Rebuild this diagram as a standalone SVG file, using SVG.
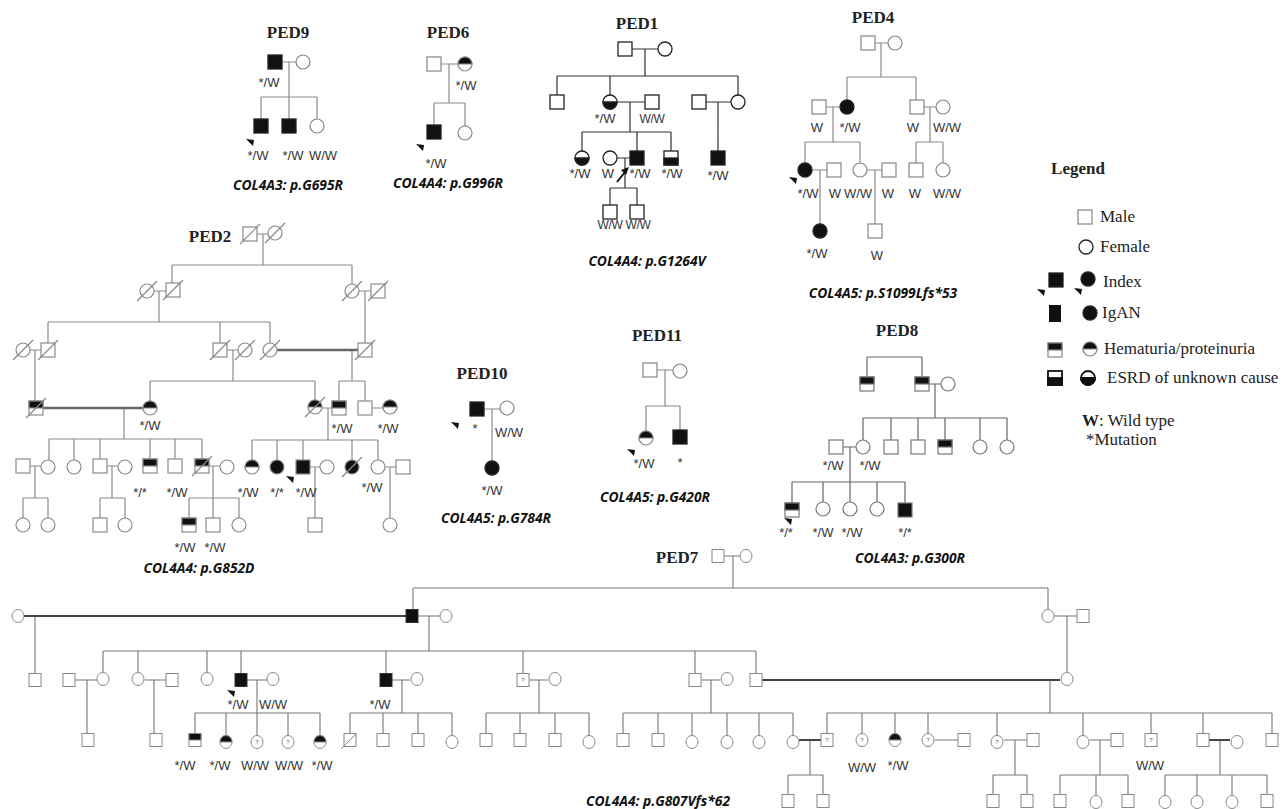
<svg xmlns="http://www.w3.org/2000/svg" xmlns:xlink="http://www.w3.org/1999/xlink" width="1287" height="809" viewBox="0 0 1287 809">
<style>
.ln{fill:none;stroke:#8c8c8c;stroke-width:1.2}
.dk{stroke:#333}
.th{fill:none;stroke:#666;stroke-width:2.6}
.lb{font-family:"Liberation Sans",Arial,sans-serif;font-size:13px;fill:#333;text-anchor:middle;stroke:none}
.tl{font-size:12px;letter-spacing:-0.4px}
.tt{font-family:"Liberation Serif","Times New Roman",serif;font-weight:bold;font-size:17px;fill:#222;text-anchor:middle;stroke:none}
.gn{font-family:"Open Sans","Liberation Sans",sans-serif;font-style:italic;font-weight:bold;font-size:13.8px;fill:#111;text-anchor:middle;stroke:none}
.lg{font-family:"Liberation Serif","Times New Roman",serif;font-size:17px;fill:#222;stroke:none}
.nd{stroke:#858585;stroke-width:1.2}
.nk{stroke:#222;stroke-width:1.3}
.q{font-family:"Liberation Sans",Arial,sans-serif;font-size:6px;fill:#666;stroke:none;text-anchor:middle}
</style>
<defs>
<g id="sq"><rect x="-7" y="-7" width="14" height="14" fill="#fff"/></g>
<g id="sqB"><rect x="-7" y="-7" width="14" height="14" fill="#111"/></g>
<g id="sqT"><rect x="-7" y="-7" width="14" height="14" fill="#fff"/><rect x="-7" y="-7" width="14" height="7" fill="#111"/></g>
<g id="sqE"><rect x="-7" y="-7" width="14" height="14" fill="#fff"/><rect x="-7" y="0" width="14" height="7" fill="#111"/></g>
<g id="ci"><circle r="7" fill="#fff"/></g>
<g id="ciB"><circle r="7" fill="#111"/></g>
<g id="ciT"><circle r="7" fill="#fff"/><path d="M-7,0A7,7 0 0 1 7,0Z" fill="#111"/></g>
<g id="ciE"><circle r="7" fill="#fff"/><path d="M-7,0A7,7 0 0 0 7,0Z" fill="#111"/></g>
<line id="dx" x1="-10" y1="10" x2="10" y2="-10"/>
<polygon id="arr" points="0,0 8,1 7,7" fill="#111" stroke="none"/>
<g id="s"><rect x="-6" y="-6.5" width="12" height="13" fill="#fff"/></g>
<g id="sB"><rect x="-6" y="-6.5" width="12" height="13" fill="#111"/></g>
<g id="sT"><rect x="-6" y="-6.5" width="12" height="13" fill="#fff"/><rect x="-6" y="-6.5" width="12" height="6.5" fill="#111"/></g>
<g id="sQ"><rect x="-6" y="-6.5" width="12" height="13" fill="#fff"/><text class="q" y="2">?</text></g>
<g id="sX"><rect x="-6" y="-6.5" width="12" height="13" fill="#fff"/><line x1="-9" y1="9" x2="7" y2="-7"/></g>
<g id="c"><ellipse rx="6" ry="6.5" fill="#fff"/></g>
<g id="cT"><ellipse rx="6" ry="6.5" fill="#fff"/><path d="M-6,0A6,6.5 0 0 1 6,0Z" fill="#111"/></g>
<g id="cQ"><ellipse rx="6" ry="6.5" fill="#fff"/><text class="q" y="2">?</text></g>
</defs>
<rect width="1287" height="809" fill="#fff"/>

<g id="connectors">
<path id="c-ped9" class="ln" d="M282,62H296M289,62V97M261,97H317M261,97V119M289,97V119M317,97V119"/>
<path id="c-ped6" class="ln" d="M441,64H458M449,64V103M434,103H465M434,103V125M465,103V126"/>
<path id="c-ped1" class="ln dk" d="M632,49H658M645,49V76M557,76H738M557,76V95M610,76V95M738,76V95M617,102H645M630,102V132M582,132H671M582,132V151M637,132V151M671,132V151M706,102H731M718,102V151M617,158H630M625,158V188M610,188H637M610,188V205M637,188V205"/>
<g id="c-ped1-arrow"><path d="M617,182L625,172" stroke="#111" stroke-width="2" fill="none"/><polygon points="629,167 621,170 626,175" fill="#111"/></g>
<path id="c-ped4" class="ln" d="M875,43H888M881,43V77M847,77H916M847,77V100M916,77V100M826,107H840M833,107V142M805,142H860M805,142V163M860,142V163M924,107H936M930,107V142M916,142H943M916,142V163M943,142V163M812,170H827M820,170V224M867,170H882M875,170V224"/>
<path id="c-ped2" class="ln" d="M257,234H268M263,234V265M172,265H352M172,265V283M352,265V284M154,291H166M159,291V322M48,322H270M48,322V343M220,322V343M270,322V343M359,291H371M365,291V343M30,350H41M35,350V401M227,350H238M233,350V381M150,381H315M150,381V401M315,381V400M352,350V381M339,381H365M339,381V401M365,381V401M322,408H332M372,408H383M124,408V439M49,439H202M49,439V460M74,439V460M100,439V459M150,439V459M175,439V459M202,439V459M29,466H41M35,466V498M23,498H48M23,498V518M48,498V518M106,466H118M112,466V498M100,498H125M100,498V518M125,498V518M208,466H220M213,466V518M189,498H239M189,498V518M239,498V518M328,408V440M252,440H378M252,440V460M277,440V460M303,440V460M352,440V460M378,440V460M310,467H320M315,467V518M385,467H396M390,467V518"/>
<path id="c-ped2-dbl" class="th" d="M277,350H358M43,408H143"/>
<path id="c-ped10" class="ln" d="M484,409H500M492,409V461"/>
<path id="c-ped11" class="ln" d="M657,370H673M665,370V406M646,406H680M646,406V431M680,406V430"/>
<path id="c-ped8" class="ln" style="stroke:#666" d="M867,357H922M867,357V377M922,357V377M929,384H941M935,384V418M863,418H1007M863,418V440M891,418V440M918,418V440M945,418V440M980,418V440M1007,418V440M843,447H856M850,447V482M792,482H905M792,482V503M823,482V502M850,482V502M877,482V502M905,482V503"/>
<path id="c-ped7" class="ln" style="stroke:#777;stroke-width:1.1" d="M724,556H740M733,556V588M413,588H1048M413,588V609.5M1048,588V609.5M418,616H440M35,616V673.5M1054,616H1077M1067,616V672.5M429,616V651M103,651H756M103,651V672.5M138,651V672.5M207,651V672.5M241,651V673.5M386,651V673.5M523,651V673.5M695,651V673.5M756,651V673.5M75,680H97M87,680V733.5M145,680H166M154,680V733.5M247,680H267M257,680V735.5M195,713H320M195,713V733.5M226,713V735.5M288,713V735.5M320,713V735.5M392,680H410M402,680V713M350,713H452M350,713V733.5M383,713V733.5M418,713V733.5M452,713V735.5M529,680H548M539,680V713M486,713H589M486,713V733.5M520,713V733.5M555,713V733.5M589,713V735.5M701,680H720M711,680V713M623,713H793M623,713V733.5M658,713V733.5M692,713V735.5M727,713V735.5M759,713V735.5M793,713V735.5M810,740V775M788,775H823M788,775V794.5M823,775V794.5M1050,680V713M827,713H1272M827,713V733.5M862,713V733.5M895,713V733.5M928,713V733.5M997,713V735.5M1083,713V735.5M1151,713V733.5M1203,713V733.5M1272,713V733.5M935,740H958M1004,740H1027M1015,740V775M993,775H1027M993,775V794.5M1027,775V794.5M1090,740H1111M1100,740V775M1060,775H1128M1060,775V794.5M1096,775V795.5M1128,775V794.5M1220,740V775M1165,775H1267M1165,775V795.5M1197,775V795.5M1232,775V795.5M1267,775V794.5"/>
<path id="c-ped7-thick" class="th" style="stroke:#444;stroke-width:2" d="M24,616H406M762,680H1060M799,740H821M1209,740H1230"/>
</g>

<g id="ped9">
<text class="tt" x="288" y="38">PED9</text>
<use id="p9-f" href="#sqB" x="275" y="62" class="nk"/>
<use id="p9-m" href="#ci" x="303" y="62" class="nd"/>
<use id="p9-c1" href="#sqB" x="261" y="126" class="nk"/>
<use id="p9-c2" href="#sqB" x="289" y="126" class="nk"/>
<use id="p9-c3" href="#ci" x="317" y="126" class="nd"/>
<use href="#arr" x="246" y="139"/>
<text class="lb" x="269" y="87">*/W</text>
<text class="lb" x="258" y="160">*/W</text>
<text class="lb" x="293" y="160">*/W</text>
<text class="lb" x="323" y="160">W/W</text>
<text class="gn" x="288" y="190">COL4A3: p.G695R</text>
</g>

<g id="ped6">
<text class="tt" x="448" y="38">PED6</text>
<use id="p6-f" href="#sq" x="434" y="64" class="nd"/>
<use id="p6-m" href="#ciT" x="465" y="64" class="nd"/>
<use id="p6-c1" href="#sqB" x="434" y="132" class="nk"/>
<use id="p6-c2" href="#ci" x="465" y="133" class="nd"/>
<use href="#arr" x="416" y="144"/>
<text class="lb" x="466" y="90">*/W</text>
<text class="lb" x="436" y="168">*/W</text>
<text class="gn" x="448" y="188">COL4A4: p.G996R</text>
</g>

<g id="ped1">
<text class="tt" x="637" y="29">PED1</text>
<use id="p1-f" href="#sq" x="625" y="49" class="nk"/>
<use id="p1-m" href="#ci" x="665" y="49" class="nk"/>
<use id="p1-a" href="#sq" x="557" y="102" class="nk"/>
<use id="p1-b" href="#ciE" x="610" y="102" class="nk"/>
<use id="p1-bh" href="#sq" x="652" y="102" class="nk"/>
<use id="p1-cs" href="#sq" x="699" y="102" class="nk"/>
<use id="p1-c" href="#ci" x="738" y="102" class="nk"/>
<use id="p1-d" href="#ciE" x="582" y="158" class="nk"/>
<use id="p1-ew" href="#ci" x="610" y="158" class="nk"/>
<use id="p1-e" href="#sqB" x="637" y="158" class="nk"/>
<use id="p1-g" href="#sqE" x="671" y="158" class="nk"/>
<use id="p1-h" href="#sqB" x="718" y="158" class="nk"/>
<use id="p1-i" href="#sq" x="610" y="212" class="nk"/>
<use id="p1-j" href="#sq" x="637" y="212" class="nk"/>
<text class="lb" x="605" y="123">*/W</text>
<text class="lb tl" x="652" y="123">W/W</text>
<text class="lb" x="580" y="178">*/W</text>
<text class="lb" x="608" y="178">W</text>
<text class="lb" x="640" y="178">*/W</text>
<text class="lb" x="672" y="178">*/W</text>
<text class="lb" x="718" y="180">*/W</text>
<text class="lb tl" x="610" y="229">W/W</text>
<text class="lb tl" x="638" y="229">W/W</text>
<text class="gn" x="647" y="266">COL4A4: p.G1264V</text>
</g>

<g id="ped4">
<text class="tt" x="873" y="23">PED4</text>
<use id="p4-f" href="#sq" x="868" y="43" class="nd"/>
<use id="p4-m" href="#ci" x="895" y="43" class="nd"/>
<use id="p4-a" href="#sq" x="819" y="107" class="nd"/>
<use id="p4-b" href="#ciB" x="847" y="107" class="nk"/>
<use id="p4-c" href="#sq" x="917" y="107" class="nd"/>
<use id="p4-d" href="#ci" x="943" y="107" class="nd"/>
<use id="p4-e" href="#ciB" x="805" y="170" class="nk"/>
<use id="p4-f2" href="#sq" x="834" y="170" class="nd"/>
<use id="p4-g" href="#ci" x="860" y="170" class="nd"/>
<use id="p4-h" href="#sq" x="889" y="170" class="nd"/>
<use id="p4-i" href="#sq" x="916" y="170" class="nd"/>
<use id="p4-j" href="#ci" x="943" y="170" class="nd"/>
<use id="p4-k" href="#ciB" x="820" y="231" class="nk"/>
<use id="p4-l" href="#sq" x="875" y="231" class="nd"/>
<use href="#arr" x="789" y="177"/>
<text class="lb" x="817" y="132">W</text>
<text class="lb" x="850" y="132">*/W</text>
<text class="lb" x="913" y="132">W</text>
<text class="lb" x="947" y="132">W/W</text>
<text class="lb" x="808" y="198">*/W</text>
<text class="lb" x="835" y="198">W</text>
<text class="lb" x="858" y="198">W/W</text>
<text class="lb" x="888" y="198">W</text>
<text class="lb" x="915" y="198">W</text>
<text class="lb" x="947" y="198">W/W</text>
<text class="lb" x="817" y="258">*/W</text>
<text class="lb" x="877" y="260">W</text>
<text class="gn" x="883" y="298">COL4A5: p.S1099Lfs*53</text>
</g>

<g id="legend">
<text class="lg" x="1078" y="174" text-anchor="middle" font-weight="bold" font-size="20">Legend</text>
<use id="lg-male" href="#sq" x="1085" y="217" class="nd"/>
<text class="lg" x="1100" y="222">Male</text>
<use id="lg-female" href="#ci" x="1086" y="247" class="nk"/>
<text class="lg" x="1100" y="252">Female</text>
<use id="lg-idx-s" href="#sqB" x="1056" y="280" class="nk"/>
<use href="#arr" x="1037" y="289"/>
<use id="lg-idx-c" href="#ciB" x="1088" y="279" class="nk"/>
<use href="#arr" x="1074" y="288"/>
<text class="lg" x="1103" y="287">Index</text>
<rect id="lg-igan-s" x="1049" y="305" width="12" height="17" fill="#111"/>
<use id="lg-igan-c" href="#ciB" x="1090" y="313" class="nk"/>
<text class="lg" x="1102" y="318">IgAN</text>
<use id="lg-hem-s" href="#sqT" x="1055" y="350" class="nd"/>
<use id="lg-hem-c" href="#ciT" x="1090" y="349" class="nd"/>
<text class="lg" x="1104" y="354">Hematuria/proteinuria</text>
<use id="lg-esrd-s" href="#sqE" x="1055" y="378" style="stroke:#111;stroke-width:1.8"/>
<use id="lg-esrd-c" href="#ciE" x="1088" y="378" style="stroke:#111;stroke-width:1.8"/>
<text class="lg" x="1107" y="383">ESRD of unknown cause</text>
<text class="lg" x="1082" y="426" font-size="16"><tspan font-weight="bold">W</tspan>: Wild type</text>
<text class="lg" x="1086" y="445" font-size="16">*Mutation</text>
</g>

<g id="ped2" class="nd" style="stroke:#8a8a8a">
<text class="tt" x="210" y="242">PED2</text>
<use id="p2-1" href="#sq" x="250" y="234"/><use href="#dx" x="250" y="234"/>
<use id="p2-2" href="#ci" x="275" y="233"/><use href="#dx" x="275" y="233"/>
<use id="p2-3" href="#ci" x="147" y="291"/><use href="#dx" x="147" y="291"/>
<use id="p2-4" href="#sq" x="173" y="290"/><use href="#dx" x="173" y="290"/>
<use id="p2-5" href="#ci" x="352" y="291"/><use href="#dx" x="352" y="291"/>
<use id="p2-6" href="#sq" x="378" y="291"/><use href="#dx" x="378" y="291"/>
<use id="p2-7" href="#ci" x="23" y="350"/><use href="#dx" x="23" y="350"/>
<use id="p2-8" href="#sq" x="48" y="350"/><use href="#dx" x="48" y="350"/>
<use id="p2-9" href="#sq" x="220" y="350"/><use href="#dx" x="220" y="350"/>
<use id="p2-10" href="#ci" x="245" y="350"/><use href="#dx" x="245" y="350"/>
<use id="p2-11" href="#ci" x="270" y="350"/><use href="#dx" x="270" y="350"/>
<use id="p2-12" href="#sq" x="365" y="350"/><use href="#dx" x="365" y="350"/>
<use id="p2-13" href="#sqT" x="36" y="408"/><use href="#dx" x="36" y="408"/>
<use id="p2-14" href="#ciT" x="150" y="408"/>
<use id="p2-15" href="#ciT" x="315" y="407"/><use href="#dx" x="315" y="407"/>
<use id="p2-16" href="#sqT" x="339" y="408"/>
<use id="p2-17" href="#sq" x="365" y="408"/>
<use id="p2-18" href="#ciT" x="390" y="407"/>
<use id="p2-19" href="#sq" x="23" y="466"/>
<use id="p2-20" href="#ci" x="48" y="467"/>
<use id="p2-21" href="#ci" x="74" y="467"/>
<use id="p2-22" href="#sq" x="100" y="466"/>
<use id="p2-23" href="#ci" x="125" y="467"/>
<use id="p2-24" href="#sqT" x="150" y="466"/>
<use id="p2-25" href="#sq" x="175" y="466"/>
<use id="p2-26" href="#sqT" x="202" y="466"/><use href="#dx" x="202" y="466"/>
<use id="p2-27" href="#ci" x="227" y="467"/>
<use id="p2-28" href="#ciT" x="252" y="467"/>
<use id="p2-29" href="#ciB" x="277" y="467"/>
<use id="p2-30" href="#sqB" x="303" y="467"/>
<use id="p2-31" href="#ci" x="327" y="467"/>
<use id="p2-32" href="#ciB" x="352" y="467"/><use href="#dx" x="352" y="467"/>
<use id="p2-33" href="#ci" x="378" y="467"/>
<use id="p2-34" href="#sq" x="403" y="467"/>
<use id="p2-35" href="#ci" x="23" y="525"/>
<use id="p2-36" href="#ci" x="48" y="525"/>
<use id="p2-37" href="#sq" x="100" y="525"/>
<use id="p2-38" href="#ci" x="125" y="525"/>
<use id="p2-39" href="#sqT" x="189" y="525"/>
<use id="p2-40" href="#sq" x="213" y="525"/>
<use id="p2-41" href="#ci" x="239" y="525"/>
<use id="p2-42" href="#sq" x="315" y="525"/>
<use id="p2-43" href="#ci" x="390" y="525"/>
<use href="#arr" x="286" y="476"/>
<text class="lb" x="150" y="430">*/W</text>
<text class="lb" x="342" y="433">*/W</text>
<text class="lb" x="388" y="433">*/W</text>
<text class="lb" x="140" y="497">*/*</text>
<text class="lb" x="177" y="497">*/W</text>
<text class="lb" x="248" y="497">*/W</text>
<text class="lb" x="277" y="497">*/*</text>
<text class="lb" x="306" y="497">*/W</text>
<text class="lb" x="372" y="492">*/W</text>
<text class="lb" x="185" y="552">*/W</text>
<text class="lb" x="215" y="552">*/W</text>
<text class="gn" x="199" y="573">COL4A4: p.G852D</text>
</g>

<g id="ped10">
<text class="tt" x="482" y="379">PED10</text>
<use id="p10-f" href="#sqB" x="477" y="409" class="nk"/>
<use id="p10-m" href="#ci" x="507" y="408" class="nd"/>
<use id="p10-c" href="#ciB" x="492" y="468" class="nk"/>
<use href="#arr" x="451" y="422"/>
<text class="lb" x="475" y="433">*</text>
<text class="lb" x="509" y="437">W/W</text>
<text class="lb" x="492" y="495">*/W</text>
<text class="gn" x="496" y="523">COL4A5: p.G784R</text>
</g>

<g id="ped11">
<text class="tt" x="657" y="341">PED11</text>
<use id="p11-f" href="#sq" x="650" y="370" class="nd"/>
<use id="p11-m" href="#ci" x="680" y="371" class="nd"/>
<use id="p11-a" href="#ciT" x="646" y="438" class="nd"/>
<use id="p11-b" href="#sqB" x="680" y="437" class="nk"/>
<use href="#arr" x="627" y="449"/>
<text class="lb" x="644" y="468">*/W</text>
<text class="lb" x="680" y="467">*</text>
<text class="gn" x="655" y="502">COL4A5: p.G420R</text>
</g>

<g id="ped8" class="nd" style="stroke:#777">
<text class="tt" x="897" y="336">PED8</text>
<use id="p8-1" href="#sqT" x="867" y="384"/>
<use id="p8-2" href="#sqT" x="922" y="384"/>
<use id="p8-3" href="#ci" x="948" y="384"/>
<use id="p8-4" href="#sq" x="836" y="447"/>
<use id="p8-5" href="#ci" x="863" y="447"/>
<use id="p8-6" href="#sq" x="891" y="447"/>
<use id="p8-7" href="#sq" x="918" y="447"/>
<use id="p8-8" href="#sqT" x="945" y="447"/>
<use id="p8-9" href="#ci" x="980" y="447"/>
<use id="p8-10" href="#ci" x="1007" y="447"/>
<use id="p8-11" href="#sqT" x="792" y="510"/>
<use id="p8-12" href="#ci" x="823" y="509"/>
<use id="p8-13" href="#ci" x="850" y="509"/>
<use id="p8-14" href="#ci" x="877" y="509"/>
<use id="p8-15" href="#sqB" x="905" y="510"/>
<use href="#arr" x="784" y="518"/>
<text class="lb" x="833" y="470">*/W</text>
<text class="lb" x="870" y="470">*/W</text>
<text class="lb" x="786" y="537">*/*</text>
<text class="lb" x="823" y="537">*/W</text>
<text class="lb" x="852" y="537">*/W</text>
<text class="lb" x="905" y="537">*/*</text>
<text class="gn" x="910" y="563">COL4A3: p.G300R</text>
</g>

<g id="ped7" class="nd" style="stroke:#888;stroke-width:1">
<text class="tt" x="677" y="563">PED7</text>
<use id="p7-f" href="#s" x="718" y="556"/>
<use id="p7-m" href="#c" x="746" y="556"/>
<use id="p7-a0" href="#c" x="18" y="616"/>
<use id="p7-a" href="#sB" x="412" y="616" style="stroke:#333"/>
<use id="p7-a1" href="#c" x="446" y="616"/>
<use id="p7-b" href="#c" x="1048" y="616"/>
<use id="p7-b1" href="#s" x="1083" y="616"/>
<use id="p7-b2" href="#c" x="1067" y="679"/>
<use id="p7-g1" href="#s" x="35" y="680"/>
<use id="p7-g2" href="#s" x="69" y="680"/>
<use id="p7-g3" href="#c" x="103" y="679"/>
<use id="p7-g4" href="#c" x="138" y="679"/>
<use id="p7-g5" href="#s" x="172" y="680"/>
<use id="p7-g6" href="#c" x="207" y="679"/>
<use id="p7-g7" href="#sB" x="241" y="680" style="stroke:#333"/>
<use id="p7-g8" href="#c" x="273" y="679"/>
<use id="p7-g9" href="#sB" x="386" y="680" style="stroke:#333"/>
<use id="p7-g10" href="#c" x="417" y="679"/>
<use id="p7-g11" href="#sQ" x="523" y="680"/>
<use id="p7-g12" href="#c" x="555" y="679"/>
<use id="p7-g13" href="#s" x="695" y="680"/>
<use id="p7-g14" href="#c" x="727" y="679"/>
<use id="p7-g15" href="#s" x="756" y="680"/>
<use id="p7-h1" href="#s" x="88" y="740"/>
<use id="p7-h2" href="#s" x="156" y="740"/>
<use id="p7-h3" href="#sT" x="195" y="740"/>
<use id="p7-h4" href="#cT" x="226" y="742"/>
<use id="p7-h5" href="#cQ" x="257" y="742"/>
<use id="p7-h6" href="#cQ" x="288" y="742"/>
<use id="p7-h7" href="#cT" x="320" y="742"/>
<use id="p7-h8" href="#sX" x="350" y="740"/>
<use id="p7-h9" href="#s" x="383" y="740"/>
<use id="p7-h10" href="#s" x="418" y="740"/>
<use id="p7-h11" href="#c" x="452" y="742"/>
<use id="p7-h12" href="#s" x="486" y="740"/>
<use id="p7-h13" href="#s" x="520" y="740"/>
<use id="p7-h14" href="#s" x="555" y="740"/>
<use id="p7-h15" href="#c" x="589" y="742"/>
<use id="p7-h16" href="#s" x="623" y="740"/>
<use id="p7-h17" href="#s" x="658" y="740"/>
<use id="p7-h18" href="#c" x="692" y="742"/>
<use id="p7-h19" href="#c" x="727" y="742"/>
<use id="p7-h20" href="#c" x="759" y="742"/>
<use id="p7-h21" href="#c" x="793" y="742"/>
<use id="p7-h22" href="#sQ" x="827" y="740"/>
<use id="p7-h23" href="#cQ" x="862" y="740"/>
<use id="p7-h24" href="#cT" x="895" y="740"/>
<use id="p7-h25" href="#cQ" x="928" y="740"/>
<use id="p7-h26" href="#s" x="964" y="740"/>
<use id="p7-h27" href="#cQ" x="997" y="742"/>
<use id="p7-h28" href="#s" x="1033" y="740"/>
<use id="p7-h29" href="#c" x="1083" y="742"/>
<use id="p7-h30" href="#s" x="1117" y="740"/>
<use id="p7-h31" href="#sQ" x="1151" y="740"/>
<use id="p7-h32" href="#s" x="1203" y="740"/>
<use id="p7-h33" href="#c" x="1237" y="742"/>
<use id="p7-h34" href="#s" x="1272" y="740"/>
<use id="p7-i1" href="#s" x="788" y="801"/>
<use id="p7-i2" href="#s" x="823" y="801"/>
<use id="p7-i3" href="#s" x="993" y="801"/>
<use id="p7-i4" href="#s" x="1027" y="801"/>
<use id="p7-i5" href="#s" x="1060" y="801"/>
<use id="p7-i6" href="#c" x="1096" y="802"/>
<use id="p7-i7" href="#s" x="1128" y="801"/>
<use id="p7-i8" href="#c" x="1165" y="802"/>
<use id="p7-i9" href="#c" x="1197" y="802"/>
<use id="p7-i10" href="#c" x="1232" y="802"/>
<use id="p7-i11" href="#s" x="1267" y="801"/>
<use href="#arr" x="227" y="690"/>
<text class="lb" x="238" y="709">*/W</text>
<text class="lb" x="273" y="709">W/W</text>
<text class="lb" x="380" y="709">*/W</text>
<text class="lb" x="185" y="770">*/W</text>
<text class="lb" x="220" y="770">*/W</text>
<text class="lb" x="255" y="770">W/W</text>
<text class="lb" x="289" y="770">W/W</text>
<text class="lb" x="322" y="770">*/W</text>
<text class="lb" x="862" y="772">W/W</text>
<text class="lb" x="898" y="770">*/W</text>
<text class="lb" x="1150" y="770">W/W</text>
<text class="gn" x="658" y="806">COL4A4: p.G807Vfs*62</text>
</g>
</svg>
